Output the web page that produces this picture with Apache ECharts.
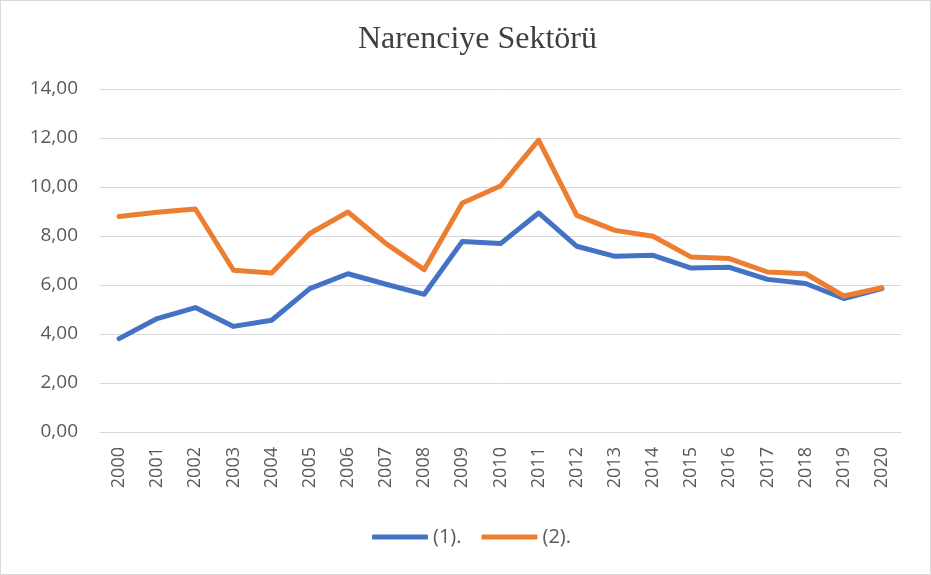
<!DOCTYPE html>
<html>
<head>
<meta charset="utf-8">
<script src="https://cdn.jsdelivr.net/npm/echarts@6/dist/echarts.min.js"></script>
<style>
  html, body { margin: 0; padding: 0; background: #fff; }
  #chart-container { width: 931px; height: 575px; box-sizing: border-box; border: 1px solid #d9d9d9; }
</style>
</head>
<body>
<div id="chart-container"></div>
<script>
var years = ["2000", "2001", "2002", "2003", "2004", "2005", "2006", "2007", "2008", "2009", "2010",
  "2011", "2012", "2013", "2014", "2015", "2016", "2017", "2018", "2019", "2020"];
var series1 = [3.81, 4.63, 5.08, 4.31, 4.56, 5.85, 6.46, 6.03, 5.62, 7.78, 7.69,
  8.94, 7.58, 7.17, 7.21, 6.69, 6.72, 6.23, 6.06, 5.45, 5.85];
var series2 = [8.80, 8.97, 9.10, 6.60, 6.49, 8.10, 8.98, 7.69, 6.63, 9.35, 10.04,
  11.91, 8.84, 8.23, 7.99, 7.14, 7.08, 6.53, 6.46, 5.55, 5.89];

var dom = document.getElementById("chart-container");
var myChart = echarts.init(dom, null, { renderer: "canvas" });

var option = {
  animation: false,
  title: {
    text: "Narenciye Sektörü",
    left: 352, // title sits a bit right of the page centre
    top: 18,
    textStyle: {
      fontFamily: "Liberation Serif",
      fontSize: 32,
      fontWeight: "normal",
      color: "#404040",
    },
  },
  grid: { left: 99, right: 29, top: 88, bottom: 142 },
  legend: {
    bottom: 22,
    left: 366,
    icon: "roundRect",
    itemWidth: 56,
    itemHeight: 5,
    itemGap: 20,
    textStyle: { fontFamily: "Open Sans", fontSize: 20, color: "#595959" },
    data: ["(1).", "(2)."],
  },
  xAxis: {
    type: "category",
    data: years,
    boundaryGap: true,
    axisLine: { lineStyle: { color: "#d9d9d9", width: 1 } },
    axisTick: { show: false },
    axisLabel: {
      rotate: 90,
      margin: 15,
      fontFamily: "Open Sans",
      fontSize: 18,
      color: "#595959",
    },
  },
  yAxis: {
    type: "value",
    min: 0,
    max: 14,
    interval: 2,
    axisLine: { show: false },
    axisTick: { show: false },
    splitLine: { lineStyle: { color: "#d9d9d9", width: 1 } },
    axisLabel: {
      margin: 22,
      fontFamily: "Open Sans",
      fontSize: 19,
      color: "#595959",
      formatter: function (v) { return v.toFixed(2).replace(".", ","); },
    },
  },
  series: [
    {
      name: "(1).",
      type: "line",
      data: series1,
      symbol: "none",
      itemStyle: { color: "#4472C4" },
      lineStyle: { color: "#4472C4", width: 5, cap: "round", join: "round" },
    },
    {
      name: "(2).",
      type: "line",
      data: series2,
      symbol: "none",
      itemStyle: { color: "#ED7D31" },
      lineStyle: { color: "#ED7D31", width: 5, cap: "round", join: "round" },
    },
  ],
};

myChart.setOption(option);
window.addEventListener("resize", myChart.resize);
</script>
</body>
</html>
